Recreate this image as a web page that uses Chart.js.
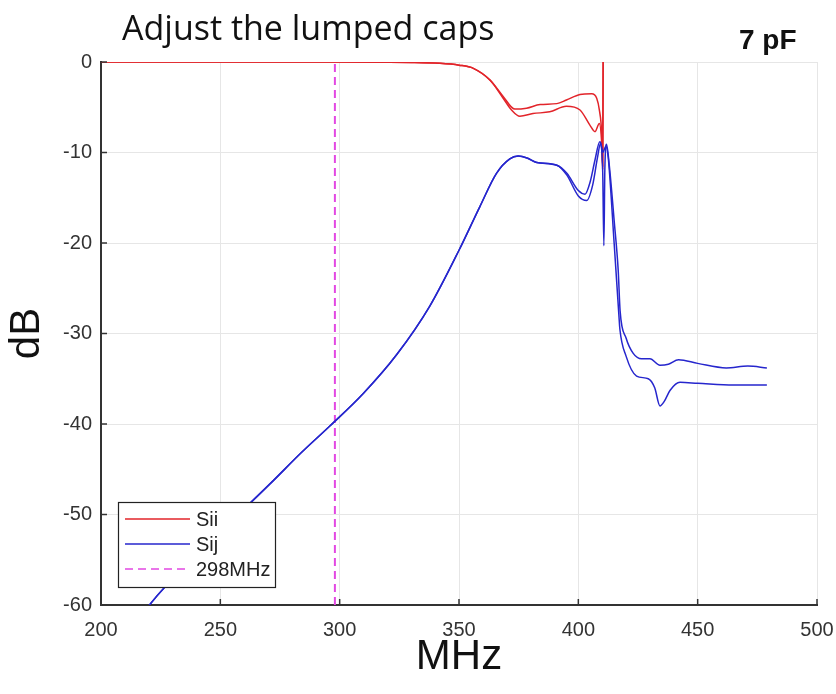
<!DOCTYPE html>
<html>
<head>
<meta charset="utf-8">
<script src="https://cdn.jsdelivr.net/npm/chart.js@4/dist/chart.umd.min.js"></script>
<style>
  body { margin: 0; background: #fff; }
  #wrap { position: relative; width: 836px; height: 694px; }
  #title { position: absolute; left: 122px; top: 4px; font: 34px "Open Sans", sans-serif; color: #111; white-space: nowrap; }
  #cap { position: absolute; left: 739px; top: 24px; font: bold 28px "Liberation Sans", Arial, sans-serif; color: #111; }
  canvas { position: absolute; left: 0; top: 0; }
</style>
</head>
<body>
<div id="wrap">
  <canvas id="chart" width="836" height="694"></canvas>
  <div id="title">Adjust the lumped caps</div>
  <div id="cap">7 pF</div>
</div>
<script>
// Sii (two ports, nearly identical)
const siiFreqA = [200, 300, 330, 342, 350, 356, 363, 368.5, 373.4, 378.3, 384, 391, 395, 400.7, 405.6, 407.7, 408.8, 409.8, 410.2, 410.4, 410.6];
const siiDbA   = [0, 0, -0.05, -0.15, -0.35, -0.7, -2.0, -3.8, -5.2, -5.1, -4.7, -4.6, -4.2, -3.6, -3.5, -4.0, -5.3, -8.0, -11.8, 0, 3];
const siiFreqB = [200, 300, 330, 342, 350, 356, 363, 368.5, 372, 375.5, 381, 388, 395, 400.7, 404.9, 407, 408.8, 409.8, 410.2, 410.4, 410.6];
const siiDbB   = [0, 0, -0.05, -0.15, -0.35, -0.7, -2.0, -4.0, -5.3, -6.0, -5.7, -5.5, -4.9, -5.3, -7.0, -7.7, -6.8, -9.0, -11.5, 0, 3];

// Sij (two ports)
const sijFreq1 = [216, 220.3, 226.5, 272.4, 284.2, 296, 310, 324, 337.7, 350, 358.7, 365.7, 371.3, 374.8, 378.5, 382.6, 391, 395.2, 400, 402.8, 405, 407, 409, 410.2, 410.7, 411.1, 411.8, 413, 415, 416.7, 417.5, 420, 423, 426.5, 430, 434.2, 437.7, 442, 450, 462, 471, 479];
const sijDb1   = [-61.5, -60, -58.1, -46.2, -43.1, -40.2, -36.6, -32.3, -27.0, -20.8, -16, -12.3, -10.7, -10.4, -10.6, -11.1, -11.4, -12.3, -14.2, -14.6, -13.2, -10.8, -8.8, -12, -20.3, -12, -9.1, -11.5, -17.5, -23, -27.5, -30.5, -32.2, -32.8, -32.8, -33.5, -33.4, -32.9, -33.3, -33.8, -33.6, -33.8];
const sijFreq2 = [216, 220.3, 226.5, 272.4, 284.2, 296, 310, 324, 337.7, 350, 358.7, 365.7, 371.3, 374.8, 378.5, 382.6, 391, 395.2, 400, 403.5, 406, 408, 409.3, 410.3, 411.5, 412.5, 415, 417, 417.4, 420, 424.4, 429.3, 432, 434.2, 436, 438.4, 442.6, 450, 465, 479];
const sijDb2   = [-61.5, -60, -58.1, -46.2, -43.1, -40.2, -36.6, -32.3, -27.0, -20.8, -16, -12.3, -10.7, -10.4, -10.6, -11.1, -11.4, -12.5, -14.8, -15.3, -13.6, -10.6, -9.0, -10.0, -9.3, -10.5, -20, -28, -29.5, -32.5, -34.7, -35.0, -36.0, -38.0, -37.5, -36.3, -35.4, -35.5, -35.7, -35.7];

const markerFreq = 298;
const markerRange = [-60, 0];

const xTicks = [200, 250, 300, 350, 400, 450, 500];
const yTicks = [-60, -50, -40, -30, -20, -10, 0];

const legendNames = ['Sii', 'Sij', '298MHz'];

const RED = 'rgb(226,36,42)';
const BLUE = 'rgb(38,38,205)';
const MAGENTA = 'rgb(226,72,226)';

function pts(xs, ys) { return xs.map((x, i) => ({ x: x, y: ys[i] })); }

function lineSet(data, color, extra) {
  return Object.assign({
    data: data, borderColor: color, borderWidth: 1.5, pointRadius: 0,
    cubicInterpolationMode: 'monotone', fill: false
  }, extra || {});
}

const legendPlugin = {
  id: 'boxLegend',
  afterDraw(chart) {
    const ctx = chart.ctx;
    const x0 = 118, y0 = 502, w = 157, h = 85;
    ctx.save();
    ctx.fillStyle = '#fff';
    ctx.fillRect(x0, y0, w, h);
    ctx.strokeStyle = '#222';
    ctx.lineWidth = 1.2;
    ctx.strokeRect(x0 + 0.5, y0 + 0.5, w, h);
    const styles = [[RED, []], [BLUE, []], [MAGENTA, [8, 5]]];
    ctx.font = '20px "Liberation Sans", Arial, sans-serif';
    ctx.textBaseline = 'middle';
    legendNames.forEach((name, i) => {
      const y = y0 + 17 + i * 25;
      ctx.strokeStyle = styles[i][0];
      ctx.setLineDash(styles[i][1]);
      ctx.lineWidth = 1.5;
      ctx.beginPath(); ctx.moveTo(125, y); ctx.lineTo(190, y); ctx.stroke();
      ctx.setLineDash([]);
      ctx.fillStyle = '#222';
      ctx.fillText(name, 196, y + 1);
    });
    ctx.restore();
  }
};

const innerTicks = {
  id: 'innerTicks',
  afterDatasetsDraw(chart) {
    const ctx = chart.ctx, a = chart.chartArea;
    const xs = chart.scales.x, ys = chart.scales.y;
    ctx.save();
    ctx.strokeStyle = '#333';
    ctx.lineWidth = 1.5;
    xTicks.forEach(v => {
      const px = xs.getPixelForValue(v);
      ctx.beginPath(); ctx.moveTo(px, a.bottom); ctx.lineTo(px, a.bottom - 6); ctx.stroke();
    });
    yTicks.forEach(v => {
      const py = ys.getPixelForValue(v);
      ctx.beginPath(); ctx.moveTo(a.left, py); ctx.lineTo(a.left + 6, py); ctx.stroke();
    });
    ctx.restore();
  }
};

new Chart(document.getElementById('chart'), {
  type: 'line',
  data: {
    datasets: [
      lineSet(pts(sijFreq1, sijDb1), BLUE),
      lineSet(pts(sijFreq2, sijDb2), BLUE),
      lineSet(pts(siiFreqA, siiDbA), RED),
      lineSet(pts(siiFreqB, siiDbB), RED),
      lineSet(pts([markerFreq, markerFreq], markerRange), MAGENTA, { borderDash: [8, 5], borderWidth: 2, cubicInterpolationMode: 'default' })
    ]
  },
  options: {
    responsive: false,
    animation: false,
    layout: { padding: { left: 0, top: 62, right: 19, bottom: 0 } },
    plugins: { legend: { display: false }, tooltip: { enabled: false } },
    scales: {
      x: {
        type: 'linear', min: 200, max: 500,
        afterBuildTicks: s => { s.ticks = xTicks.map(v => ({ value: v })); },
        afterFit: s => { s.height = 89; s.paddingLeft = 0; s.paddingRight = 0; },
        grid: { color: '#e6e6e6', drawTicks: false },
        border: { color: '#333', width: 2 },
        ticks: { padding: 13, color: '#333', font: { size: 20, family: '"Liberation Sans", Arial, sans-serif' }, maxRotation: 0 },
        title: { display: true, text: 'MHz', color: '#111', padding: { top: 0, bottom: 11 }, font: { size: 42, family: '"Liberation Sans", Arial, sans-serif' } }
      },
      y: {
        type: 'linear', min: -60, max: 0,
        afterBuildTicks: s => { s.ticks = yTicks.map(v => ({ value: v })); },
        afterFit: s => { s.width = 101; s.paddingTop = 0; s.paddingBottom = 0; },
        grid: { color: '#e6e6e6', drawTicks: false },
        border: { color: '#333', width: 2 },
        ticks: { padding: 9, color: '#333', font: { size: 20, family: '"Liberation Sans", Arial, sans-serif' } },
        title: { display: true, text: 'dB', color: '#111', padding: { top: 2, bottom: 0 }, font: { size: 42, family: '"Liberation Sans", Arial, sans-serif' } }
      }
    }
  },
  plugins: [innerTicks, legendPlugin]
});
</script>
</body>
</html>
